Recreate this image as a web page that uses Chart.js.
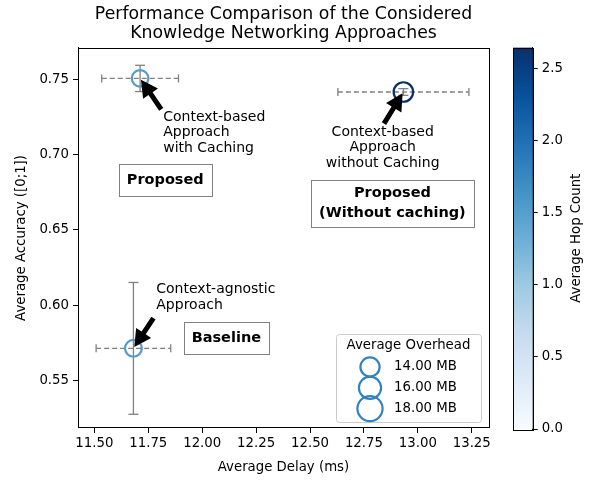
<!DOCTYPE html>
<html>
<head>
<meta charset="utf-8">
<script src="https://cdn.jsdelivr.net/npm/chart.js@4.4.0/dist/chart.umd.min.js"></script>
<style>
  body { margin: 0; background: #fff; }
  #wrap { position: relative; width: 597px; height: 480px; }
  #mainChart { position: absolute; left: 0; top: 0; }
  #cbChart { position: absolute; left: 497px; top: 0; }
</style>
</head>
<body>
<div id="wrap">
  <canvas id="mainChart" width="505" height="480"></canvas>
  <canvas id="cbChart" width="100" height="480"></canvas>
</div>
<script>
// values
const approaches = ["Context-based Approach with Caching", "Context-based Approach without Caching", "Context-agnostic Approach"];
const avgDelay = [11.712, 12.933, 11.681];
const delayErr = [0.178, 0.304, 0.173];
const avgAccuracy = [0.7505, 0.7415, 0.5715];
const accuracyErr = [0.0087, 0.0022, 0.0437];
const avgHopCount = [1.52, 2.646, 1.55];
const avgOverhead = [12.2, 14.2, 12.4];
const overheadLegend = [14, 16, 18];
const delayTicks = [11.5, 11.75, 12.0, 12.25, 12.5, 12.75, 13.0, 13.25];
const accuracyTicks = [0.55, 0.60, 0.65, 0.70, 0.75];
const hopTicks = [0, 0.5, 1.0, 1.5, 2.0, 2.5];
const hopMin = 0;
const hopMax = 2.646;

const FONT = "DejaVu Sans";
Chart.defaults.font.family = FONT;
Chart.defaults.color = "#000";

// matplotlib "Blues"
const bluesStops = ["#f7fbff", "#deebf7", "#c6dbef", "#9ecae1", "#6baed6", "#4292c6", "#2171b5", "#08519c", "#08306b"];
function hex(c) { return [1, 3, 5].map(i => parseInt(c.substr(i, 2), 16)); }
function blues(t) {
  t = Math.max(0, Math.min(1, t));
  const p = t * (bluesStops.length - 1);
  const i = Math.min(Math.floor(p), bluesStops.length - 2);
  const f = p - i;
  const a = hex(bluesStops[i]), b = hex(bluesStops[i + 1]);
  const c = a.map((v, k) => Math.round(v + (b[k] - v) * f));
  return `rgb(${c[0]},${c[1]},${c[2]})`;
}
function hopColor(h) { return blues((h - hopMin) / (hopMax - hopMin)); }
function markerRadius(mb) { return 0.75 * mb - 0.9; }

// annotation layout (data coordinates)
const notes = [
  { point: 0, lines: ["Context-based", "Approach", "with Caching"], x: 11.819, y: 0.7249, align: "left", tailX: 11.81, tailY: 0.73 },
  { point: 1, lines: ["Context-based", "Approach", "without Caching"], x: 12.837, y: 0.7149, align: "center", tailX: 12.843, tailY: 0.7205 },
  { point: 2, lines: ["Context-agnostic", "Approach"], x: 11.787, y: 0.6105, align: "left", tailX: 11.774, tailY: 0.5915 }
];
const boxes = [
  { lines: ["Proposed"], x: 11.8285, y: 0.6833 },
  { lines: ["Proposed", "(Without caching)"], x: 12.882, y: 0.6677 },
  { lines: ["Baseline"], x: 12.112, y: 0.5782 }
];

function line(ctx, x0, y0, x1, y1) {
  ctx.beginPath(); ctx.moveTo(x0, y0); ctx.lineTo(x1, y1); ctx.stroke();
}

function drawArrow(ctx, tx, ty, px, py) {
  const dx = px - tx, dy = py - ty;
  const len = Math.hypot(dx, dy);
  const ux = dx / len, uy = dy / len;
  const nx = -uy, ny = ux;
  const tipX = px - ux * 1.5, tipY = py - uy * 1.5;
  const headLen = 17, headW = 18, bodyW = 5;
  const bx = tipX - ux * headLen, by = tipY - uy * headLen;
  ctx.beginPath();
  ctx.moveTo(tx + nx * bodyW / 2, ty + ny * bodyW / 2);
  ctx.lineTo(bx + nx * bodyW / 2, by + ny * bodyW / 2);
  ctx.lineTo(bx + nx * headW / 2, by + ny * headW / 2);
  ctx.lineTo(tipX, tipY);
  ctx.lineTo(bx - nx * headW / 2, by - ny * headW / 2);
  ctx.lineTo(bx - nx * bodyW / 2, by - ny * bodyW / 2);
  ctx.lineTo(tx - nx * bodyW / 2, ty - ny * bodyW / 2);
  ctx.closePath();
  ctx.fill();
}

const overlayPlugin = {
  id: "overlay",
  beforeDatasetsDraw(chart) {
    const ctx = chart.ctx, xs = chart.scales.x, ys = chart.scales.y;
    ctx.save();
    ctx.strokeStyle = "#808080";
    ctx.lineWidth = 1.3;
    for (let i = 0; i < avgDelay.length; i++) {
      const cx = xs.getPixelForValue(avgDelay[i]);
      const cy = ys.getPixelForValue(avgAccuracy[i]);
      const xl = xs.getPixelForValue(avgDelay[i] - delayErr[i]);
      const xr = xs.getPixelForValue(avgDelay[i] + delayErr[i]);
      const yt = ys.getPixelForValue(avgAccuracy[i] + accuracyErr[i]);
      const yb = ys.getPixelForValue(avgAccuracy[i] - accuracyErr[i]);
      ctx.setLineDash([5, 3]);
      line(ctx, xl, cy, xr, cy);
      ctx.setLineDash([]);
      line(ctx, xl, cy - 4, xl, cy + 4);
      line(ctx, xr, cy - 4, xr, cy + 4);
      line(ctx, cx, yt, cx, yb);
      line(ctx, cx - 5, yt, cx + 5, yt);
      line(ctx, cx - 5, yb, cx + 5, yb);
    }
    ctx.restore();
  },
  afterDatasetsDraw(chart) {
    const ctx = chart.ctx, xs = chart.scales.x, ys = chart.scales.y;
    const area = chart.chartArea;
    ctx.save();

    // arrows + annotation text
    ctx.fillStyle = "#000";
    ctx.font = `14px "${FONT}"`;
    ctx.textBaseline = "middle";
    notes.forEach(n => {
      const px = xs.getPixelForValue(avgDelay[n.point]);
      const py = ys.getPixelForValue(avgAccuracy[n.point]);
      drawArrow(ctx, xs.getPixelForValue(n.tailX), ys.getPixelForValue(n.tailY), px, py);
      ctx.textAlign = n.align;
      const tx = xs.getPixelForValue(n.x), ty = ys.getPixelForValue(n.y);
      n.lines.forEach((s, k) => ctx.fillText(s, tx, ty + k * 15.7));
    });

    // labelled boxes
    ctx.font = `bold 14.5px "${FONT}"`;
    ctx.textAlign = "center";
    boxes.forEach(b => {
      const cx = xs.getPixelForValue(b.x), cy = ys.getPixelForValue(b.y);
      const w = Math.max(...b.lines.map(s => ctx.measureText(s).width)) + 16;
      const lh = 20.5;
      const h = b.lines.length === 1 ? 32 : 47;
      ctx.fillStyle = "#fff";
      ctx.fillRect(cx - w / 2, cy - h / 2, w, h);
      ctx.strokeStyle = "#808080";
      ctx.lineWidth = 1;
      ctx.strokeRect(Math.round(cx - w / 2) + 0.5, Math.round(cy - h / 2) + 0.5, Math.round(w), Math.round(h));
      ctx.fillStyle = "#000";
      const y0 = cy - (b.lines.length - 1) * lh / 2;
      b.lines.forEach((s, k) => ctx.fillText(s, cx, y0 + k * lh));
    });

    // size legend
    const lw = 145, lhgt = 88;
    const lx = area.right - 8 - lw, ly = area.bottom - 6 - lhgt;
    ctx.fillStyle = "rgba(255,255,255,0.8)";
    ctx.strokeStyle = "#cccccc";
    ctx.lineWidth = 1;
    ctx.beginPath();
    ctx.roundRect(Math.round(lx) + 0.5, Math.round(ly) + 0.5, lw, lhgt, 3);
    ctx.fill(); ctx.stroke();
    ctx.fillStyle = "#000";
    ctx.font = `13.3px "${FONT}"`;
    ctx.textAlign = "center";
    ctx.fillText("Average Overhead", lx + lw / 2, ly + 12);
    ctx.textAlign = "left";
    overheadLegend.forEach((mb, k) => {
      const cy = ly + 33 + k * 20.8;
      ctx.strokeStyle = "#3282c0";
      ctx.lineWidth = 2.2;
      ctx.beginPath();
      ctx.arc(lx + 34, cy, markerRadius(mb), 0, Math.PI * 2);
      ctx.stroke();
      ctx.fillText(mb.toFixed(2) + " MB", lx + 58, cy);
    });

    // top and right spines
    ctx.strokeStyle = "#000";
    ctx.lineWidth = 1;
    line(ctx, area.left, Math.round(area.top) + 0.5, area.right + 0.5, Math.round(area.top) + 0.5);
    line(ctx, Math.round(area.right) + 0.5, area.top, Math.round(area.right) + 0.5, area.bottom);
    ctx.restore();
  }
};

const tickFont = { family: FONT, size: 13.3 };

new Chart(document.getElementById("mainChart"), {
  type: "scatter",
  data: {
    datasets: [{
      label: "Approaches",
      data: avgDelay.map((x, i) => ({ x: x, y: avgAccuracy[i] })),
      pointBackgroundColor: "rgba(0,0,0,0)",
      pointBorderColor: avgHopCount.map(hopColor),
      pointBorderWidth: 2.2,
      pointRadius: avgOverhead.map(markerRadius),
      pointHoverRadius: avgOverhead.map(markerRadius)
    }]
  },
  options: {
    responsive: false,
    animation: false,
    devicePixelRatio: 1,
    layout: { padding: { left: 0, right: 16, top: 0, bottom: 0 }, autoPadding: false },
    plugins: {
      legend: { display: false },
      tooltip: { enabled: false },
      title: {
        display: true,
        fullSize: false,
        text: ["Performance Comparison of the Considered", "Knowledge Networking Approaches"],
        font: { family: FONT, size: 17.3, weight: "normal", lineHeight: 1.1 },
        color: "#000",
        padding: { top: 5, bottom: 4.9 }
      }
    },
    scales: {
      x: {
        type: "linear",
        min: 11.424,
        max: 13.33,
        afterBuildTicks: s => { s.ticks = delayTicks.map(v => ({ value: v })); },
        afterFit: s => { s.height = 52; },
        ticks: { callback: v => v.toFixed(2), font: tickFont, color: "#000", padding: 3, maxRotation: 0, autoSkip: false },
        grid: { display: true, drawOnChartArea: false, drawTicks: true, tickLength: 5, color: "#000" },
        border: { display: true, color: "#000", width: 1 },
        title: { display: true, text: "Average Delay (ms)", font: tickFont, color: "#000", padding: { top: 0, bottom: 4.5 } }
      },
      y: {
        type: "linear",
        min: 0.5187,
        max: 0.7707,
        afterBuildTicks: s => { s.ticks = accuracyTicks.map(v => ({ value: v })); },
        afterFit: s => { s.width = 78; },
        ticks: { callback: v => v.toFixed(2), font: tickFont, color: "#000", padding: 4, autoSkip: false },
        grid: { display: true, drawOnChartArea: false, drawTicks: true, tickLength: 5, color: "#000" },
        border: { display: true, color: "#000", width: 1 },
        title: { display: true, text: "Average Accuracy ([0;1])", font: tickFont, color: "#000", padding: { top: 14, bottom: 0 } }
      }
    }
  },
  plugins: [overlayPlugin]
});

// colorbar
const cbPlugin = {
  id: "cbOutline",
  afterDraw(chart) {
    const ctx = chart.ctx, a = chart.chartArea;
    ctx.save();
    ctx.strokeStyle = "#000";
    ctx.lineWidth = 1;
    ctx.strokeRect(Math.round(a.left) + 0.5, Math.round(a.top) + 0.5, Math.round(a.right - a.left), Math.round(a.bottom - a.top));
    ctx.fillStyle = "#000";
    ctx.font = `13.3px "${FONT}"`;
    ctx.textAlign = "center";
    ctx.textBaseline = "middle";
    ctx.translate(80, (a.top + a.bottom) / 2);
    ctx.rotate(-Math.PI / 2);
    ctx.fillText("Average Hop Count", 0, 0);
    ctx.restore();
  }
};

new Chart(document.getElementById("cbChart"), {
  type: "bar",
  data: {
    labels: ["hop"],
    datasets: [{
      data: [[hopMin, hopMax]],
      backgroundColor: c => {
        const chart = c.chart, ys = chart.scales.y;
        if (!chart.chartArea || !ys) return bluesStops[4];
        const y0 = ys.getPixelForValue(hopMin), y1 = ys.getPixelForValue(hopMax);
        if (!isFinite(y0) || !isFinite(y1)) return bluesStops[4];
        const g = chart.ctx.createLinearGradient(0, y0, 0, y1);
        bluesStops.forEach((col, k) => g.addColorStop(k / (bluesStops.length - 1), col));
        return g;
      },
      borderWidth: 0,
      barPercentage: 1,
      categoryPercentage: 1
    }]
  },
  options: {
    responsive: false,
    animation: false,
    devicePixelRatio: 1,
    layout: { padding: { left: 16, right: 0, top: 47.5, bottom: 51 }, autoPadding: false },
    plugins: { legend: { display: false }, tooltip: { enabled: false } },
    scales: {
      x: { display: false },
      y: {
        position: "right",
        min: hopMin,
        max: hopMax,
        afterBuildTicks: s => { s.ticks = hopTicks.map(v => ({ value: v })); },
        afterFit: s => { s.width = 64.3; },
        ticks: { callback: v => v.toFixed(1), font: tickFont, color: "#000", padding: 4 },
        grid: { display: true, drawOnChartArea: false, drawTicks: true, tickLength: 5, color: "#000" },
        border: { display: true, color: "#000", width: 1 }
      }
    }
  },
  plugins: [cbPlugin]
});
</script>
</body>
</html>
